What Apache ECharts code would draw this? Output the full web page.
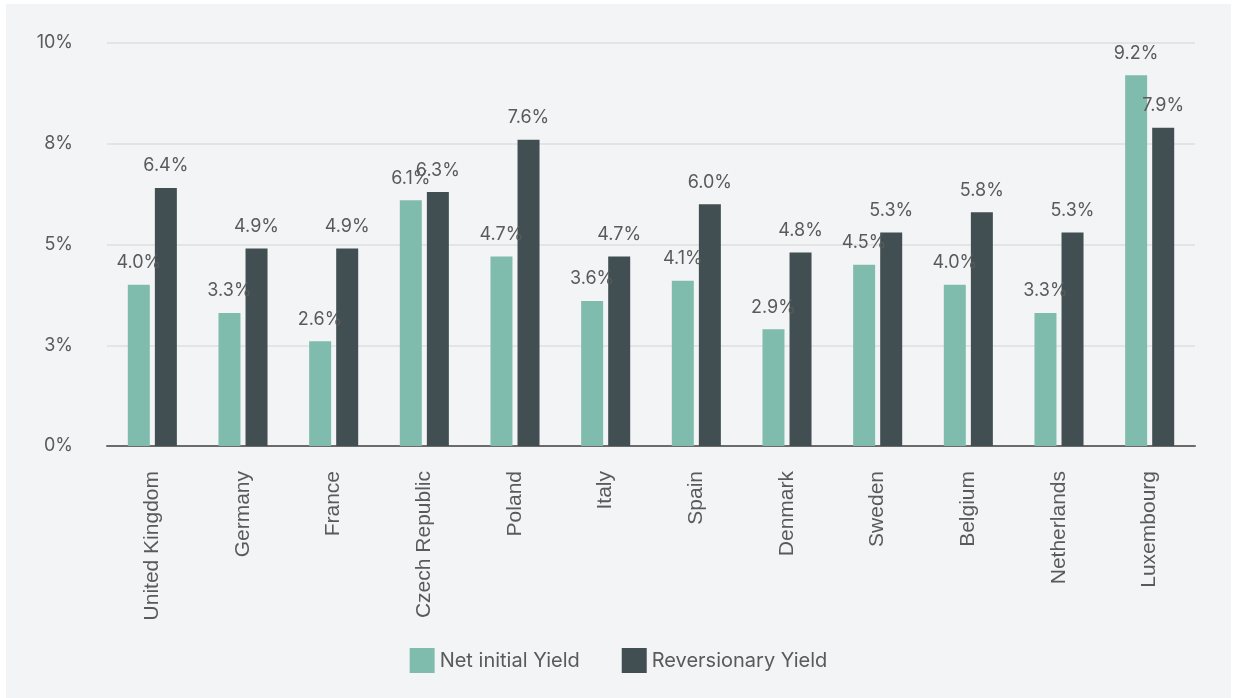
<!DOCTYPE html>
<html>
<head>
<meta charset="utf-8">
<script src="https://cdn.jsdelivr.net/npm/echarts@6/dist/echarts.min.js"></script>
<style>
  html, body { margin: 0; padding: 0; background: #ffffff; }
  #chart {
    position: absolute;
    left: 6px;
    top: 4px;
    width: 1225px;
    height: 694px;
    background: #f3f4f6;
  }
</style>
</head>
<body>
<div id="chart"></div>
<script>
// categories and series values (%)
const countries = ['United Kingdom', 'Germany', 'France', 'Czech Republic', 'Poland', 'Italy',
  'Spain', 'Denmark', 'Sweden', 'Belgium', 'Netherlands', 'Luxembourg']
const netInitialYield = [4.0, 3.3, 2.6, 6.1, 4.7, 3.6, 4.1, 2.9, 4.5, 4.0, 3.3, 9.2]
const reversionaryYield = [6.4, 4.9, 4.9, 6.3, 7.6, 4.7, 6.0, 4.8, 5.3, 5.8, 5.3, 7.9]

const textColor = '#5a5a5a'
const fontFamily = 'Inter, "Noto Sans", sans-serif'

const chart = echarts.init(document.getElementById('chart'))

// shared bar label style
const barLabel = {
  show: true,
  position: 'top',
  distance: 13,
  color: textColor,
  fontSize: 18,
  fontFamily: fontFamily,
  formatter: (p) => p.value.toFixed(1) + '%'
}

const option = {
  backgroundColor: 'transparent',
  animation: false,
  grid: {
    left: 101,
    right: 36,
    top: 39,
    bottom: 252
  },
  legend: {
    bottom: 20,
    left: 'center',
    itemWidth: 25,
    itemHeight: 25,
    itemGap: 42,
    icon: 'rect',
    textStyle: { color: textColor, fontSize: 20, fontFamily: fontFamily },
    data: ['Net initial Yield', 'Reversionary Yield']
  },
  xAxis: {
    type: 'category',
    data: countries,
    axisLine: { lineStyle: { color: '#6b6b6b', width: 2 } },
    axisTick: { show: false },
    axisLabel: {
      rotate: 90,
      margin: 25,
      color: textColor,
      fontSize: 21,
      fontFamily: '"Liberation Sans", Arial, sans-serif',
      interval: 0
    }
  },
  yAxis: {
    type: 'value',
    min: 0,
    max: 10,
    interval: 2.5,
    axisLine: { show: false },
    axisTick: { show: false },
    axisLabel: {
      margin: 34,
      color: textColor,
      fontSize: 18,
      fontFamily: fontFamily,
      formatter: (v) => Math.round(v) + '%'
    },
    splitLine: { lineStyle: { color: '#e3e4e6', width: 2 } }
  },
  series: [
    {
      name: 'Net initial Yield',
      type: 'bar',
      barWidth: 22,
      barGap: '23%',
      data: netInitialYield,
      itemStyle: { color: '#80bcad' },
      label: barLabel
    },
    {
      name: 'Reversionary Yield',
      type: 'bar',
      barWidth: 22,
      barGap: '23%',
      data: reversionaryYield,
      itemStyle: { color: '#414f52' },
      label: barLabel
    }
  ]
}

chart.setOption(option)
</script>
</body>
</html>
